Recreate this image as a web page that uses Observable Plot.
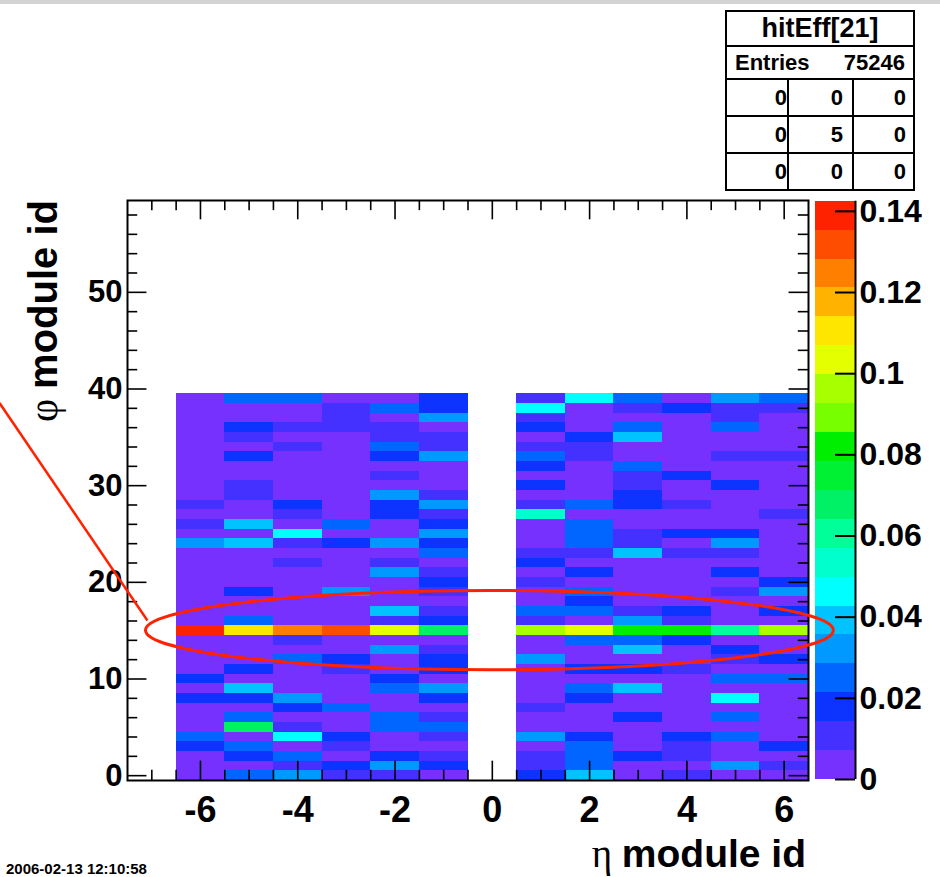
<!DOCTYPE html>
<html>
<head>
<meta charset="utf-8">
<script src="https://cdn.jsdelivr.net/npm/d3@7"></script>
<script src="https://cdn.jsdelivr.net/npm/@observablehq/plot@0.6"></script>
<style>
  html, body { margin: 0; padding: 0; background: #fff; }
  #wrap { position: relative; width: 940px; height: 877px; overflow: hidden; background: #fff;
          font-family: "Liberation Sans", Arial, Helvetica, sans-serif; }
  #wrap > svg, #wrap > div { position: absolute; }
  #topbar { left: 0; top: 0; width: 940px; height: 4px; background: #d3d3d3; }
  #stats { left: 725px; top: 10px; width: 186px; border: 2px solid #000; background: #fff; font-weight: bold; color: #000; }
  #stats .title { height: 33px; line-height: 33px; text-align: center; font-size: 27px; border-bottom: 2px solid #000; }
  #stats .entries { height: 31px; line-height: 31px; font-size: 22px; border-bottom: 2px solid #000; display: flex; justify-content: space-between; padding: 0 8px; }
  #stats .row { display: flex; height: 35px; line-height: 35px; font-size: 22px; }
  #stats .row + .row { border-top: 2px solid #000; }
  #stats .row span { text-align: right; box-sizing: border-box; }
  #stats .row span:nth-child(1) { width: 62px; border-right: 2px solid #000; padding-right: 0px; }
  #stats .row span:nth-child(2) { width: 65px; border-right: 2px solid #000; padding-right: 9px; }
  #stats .row span:nth-child(3) { width: 59px; padding-right: 7px; }
</style>
</head>
<body>
<div id="wrap"><div id="topbar"></div></div>
<script>
// ---------------- data ----------------
const histName = "hitEff[21]";
const entries = 75246;
const overflowTable = [[0, 0, 0], [0, 5, 0], [0, 0, 0]];

const etaIds = [-6, -5, -4, -3, -2, -1, 1, 2, 3, 4, 5, 6];
const phiIds = [0,1,2,3,4,5,6,7,8,9,10,11,12,13,14,15,16,17,18,19,20,21,22,23,24,25,26,27,28,29,30,31,32,33,34,35,36,37,38,39];

// hit efficiency per phi module (index = phi id 0..39), one array per eta module
const effEtaM6 = [.004,.004,.004,.018,.025,.004,.004,.004,.018,.004, .018,.004,.004,.004,.004,.139,.004,.004,.004,.004, .004,.004,.004,.004,.032,.004,.011,.004,.011,.004, .004,.004,.004,.004,.004,.004,.004,.004,.004,.004];
const effEtaM5 = [.025,.004,.018,.025,.004,.068,.025,.004,.018,.039, .004,.018,.004,.004,.004,.110,.025,.004,.004,.018, .004,.004,.004,.004,.039,.004,.039,.004,.004,.011, .011,.004,.004,.018,.004,.011,.018,.004,.004,.025];
const effEtaM4 = [.032,.011,.025,.004,.046,.011,.004,.018,.032,.004, .004,.004,.025,.004,.011,.125,.004,.004,.004,.004, .004,.004,.011,.004,.011,.046,.004,.011,.018,.004, .004,.004,.004,.004,.011,.004,.011,.004,.004,.025];
const effEtaM3 = [.011,.018,.004,.011,.018,.004,.004,.025,.004,.004, .004,.011,.018,.004,.004,.132,.004,.004,.004,.032, .004,.004,.004,.004,.018,.004,.025,.004,.004,.004, .004,.004,.004,.004,.004,.004,.011,.011,.011,.004];
const effEtaM2 = [.011,.032,.018,.004,.004,.025,.025,.004,.004,.025, .018,.004,.004,.032,.004,.103,.011,.039,.004,.004, .004,.032,.011,.004,.032,.004,.004,.018,.018,.032, .004,.011,.004,.018,.025,.011,.011,.004,.025,.004];
const effEtaM1 = [.004,.018,.011,.004,.011,.025,.011,.004,.018,.032, .004,.018,.018,.011,.004,.068,.018,.011,.004,.011, .018,.011,.004,.025,.018,.032,.018,.011,.032,.011, .004,.004,.004,.032,.011,.011,.004,.032,.018,.018];
const effEtaP1 = [.018,.011,.011,.004,.032,.004,.004,.011,.004,.004, .004,.004,.032,.004,.004,.096,.011,.025,.004,.004, .011,.004,.018,.011,.004,.004,.004,.053,.011,.004, .018,.004,.018,.025,.011,.004,.018,.011,.046,.011];
const effEtaP2 = [.039,.025,.025,.025,.018,.004,.004,.004,.018,.025, .004,.018,.004,.004,.025,.103,.004,.025,.018,.025, .004,.018,.004,.011,.025,.025,.025,.004,.025,.004, .004,.004,.004,.011,.011,.018,.004,.004,.004,.046];
const effEtaP3 = [.004,.004,.018,.004,.004,.004,.018,.004,.004,.039, .004,.018,.004,.039,.025,.082,.032,.011,.004,.004, .004,.004,.004,.039,.011,.011,.004,.004,.018,.018, .011,.011,.025,.004,.004,.039,.025,.004,.011,.025];
const effEtaP4 = [.011,.004,.011,.011,.018,.004,.004,.004,.004,.004, .004,.011,.004,.004,.018,.082,.011,.018,.004,.004, .004,.004,.004,.011,.004,.018,.004,.004,.011,.004, .004,.018,.004,.004,.004,.004,.004,.004,.018,.004];
const effEtaP5 = [.004,.032,.004,.004,.025,.004,.025,.004,.046,.004, .025,.004,.011,.018,.004,.061,.004,.004,.004,.011, .004,.018,.004,.011,.032,.018,.004,.004,.004,.004, .018,.004,.004,.011,.004,.004,.025,.011,.011,.032];
const effEtaP6 = [.004,.011,.004,.018,.004,.004,.004,.004,.004,.004, .025,.004,.018,.004,.004,.096,.004,.018,.004,.032, .018,.004,.004,.004,.004,.004,.004,.011,.004,.004, .004,.004,.004,.011,.004,.004,.004,.004,.011,.025];
const effColumns = [effEtaM6, effEtaM5, effEtaM4, effEtaM3, effEtaM2, effEtaM1, effEtaP1, effEtaP2, effEtaP3, effEtaP4, effEtaP5, effEtaP6];

// axes
const xMajorTicks = [-6, -4, -2, 0, 2, 4, 6];
const xTickLabels = ["-6", "-4", "-2", "0", "2", "4", "6"];
const xMinorTicks = [-7, -6.5, -5.5, -5, -4.5, -3.5, -3, -2.5, -1.5, -1, -0.5, 0.5, 1, 1.5, 2.5, 3, 3.5, 4.5, 5, 5.5];
const yMajorTicks = [0, 10, 20, 30, 40, 50];
const yTickLabels = ["0", "10", "20", "30", "40", "50"];
const yMinorTicks = [2, 4, 6, 8, 12, 14, 16, 18, 22, 24, 26, 28, 32, 34, 36, 38, 42, 44, 46, 48, 52, 54, 56, 58];
const xTitle = ["η", "module id"];
const yTitle = ["φ", "module id"];
const dateStamp = "2006-02-13 12:10:58";

// colour palette (20 contour levels) and colour bar
const zMax = 0.1425;
const palette = ["#7631ff", "#4531ff", "#0c33ff", "#0066ff", "#0099ff", "#00c3ff", "#00ffff", "#00ffcc",
                 "#00ff99", "#00f066", "#00f033", "#00ee00", "#77ff00", "#a8ff00", "#e3ff00", "#ffe600",
                 "#ffb300", "#ff8000", "#ff4d00", "#ff2200"];
const zTicks = [0, 0.02, 0.04, 0.06, 0.08, 0.1, 0.12, 0.14];
const zTickLabels = ["0", "0.02", "0.04", "0.06", "0.08", "0.1", "0.12", "0.14"];

// hand annotation (data units: eta, phi)
const ringCenter = {eta: -0.05, phi: 15};
const ringRadius = {eta: 7.07, phi: 4.1};
const pointerFrom = {eta: -10.12, phi: 38.5};
const pointerTo = {eta: -7.08, phi: 16.0};

// ---------------- build ----------------
const wrap = document.getElementById("wrap");
const font = "Liberation Sans, Arial, Helvetica, sans-serif";
const cells = etaIds.flatMap((eta, j) => phiIds.map((phi, i) => ({eta, phi, value: effColumns[j][i]})));
const bandW = zMax / palette.length;
const thresholds = palette.slice(1).map((_, i) => (i + 1) * bandW);
const colorOpts = {type: "threshold", domain: thresholds, range: palette};
const tk = {stroke: "#000", strokeWidth: 1.6};

const main = Plot.plot({
  width: 940, height: 877,
  marginTop: 200, marginRight: 132, marginBottom: 97, marginLeft: 127,
  x: {domain: [-7.5, 6.5], axis: null},
  y: {domain: [-0.5, 59.5], axis: null},
  color: colorOpts,
  style: {background: "transparent", overflow: "visible"},
  marks: [
    Plot.rect(cells, {x1: d => d.eta - 0.5, x2: d => d.eta + 0.5, y1: d => d.phi - 0.5, y2: d => d.phi + 0.5,
                      fill: "value", shapeRendering: "crispEdges"}),
    Plot.ruleX(xMinorTicks, {y1: -0.5, y2: 0.55, ...tk}),
    Plot.ruleX(xMajorTicks, {y1: -0.5, y2: 1.5, ...tk}),
    Plot.ruleX(xMinorTicks, {y1: 59.5, y2: 58.45, ...tk}),
    Plot.ruleX(xMajorTicks, {y1: 59.5, y2: 57.5, ...tk}),
    Plot.ruleY(yMinorTicks, {x1: -7.5, x2: -7.29, ...tk}),
    Plot.ruleY(yMajorTicks, {x1: -7.5, x2: -7.1, ...tk}),
    Plot.ruleY(yMinorTicks, {x1: 6.5, x2: 6.29, ...tk}),
    Plot.ruleY(yMajorTicks, {x1: 6.5, x2: 6.1, ...tk}),
    Plot.frame({stroke: "#000", strokeWidth: 2}),
    Plot.text(xMajorTicks, {x: d => d, y: -0.5, dy: 30, text: (d, i) => xTickLabels[i],
                            fontSize: 36, fontWeight: "bold", fontFamily: font, fill: "#000"}),
    Plot.text(yMajorTicks, {x: -7.5, y: d => d, dx: -5, textAnchor: "end", text: (d, i) => yTickLabels[i],
                            fontSize: 31, fontWeight: "bold", fontFamily: font, fill: "#000"})
  ]
});
main.style.left = "0px"; main.style.top = "0px";
wrap.appendChild(main);

const bar = Plot.plot({
  width: 125, height: 600,
  marginTop: 10.7, marginBottom: 11, marginLeft: 0, marginRight: 85,
  x: {domain: [0, 1], axis: null},
  y: {domain: [0, zMax], axis: null},
  color: colorOpts,
  style: {background: "transparent", overflow: "visible"},
  marks: [
    Plot.rect(palette, {x1: 0, x2: 1, y1: (d, i) => i * bandW, y2: (d, i) => (i + 1) * bandW,
                        fill: (d, i) => (i + 0.5) * bandW, shapeRendering: "crispEdges"}),
    Plot.ruleX([1], {y1: 0, y2: zMax, stroke: "#000", strokeWidth: 2}),
    Plot.ruleY(zTicks, {x1: 0.5, x2: 1, stroke: "#000", strokeWidth: 2}),
    Plot.text(zTicks, {x: 1, y: d => d, dx: 4, textAnchor: "start", text: (d, i) => zTickLabels[i],
                       fontSize: 32, fontWeight: "bold", fontFamily: font, fill: "#000"})
  ]
});
bar.style.left = "815px"; bar.style.top = "190px";
wrap.appendChild(bar);

// stats box
const stats = document.createElement("div");
stats.id = "stats";
stats.innerHTML = `<div class="title">${histName}</div>` +
  `<div class="entries"><span>Entries</span><span>${entries}</span></div>` +
  overflowTable.map(r => `<div class="row">${r.map(v => `<span>${v}</span>`).join("")}</div>`).join("");
wrap.appendChild(stats);

// overlay: titles, date, annotation
const sx = main.scale("x"), sy = main.scale("y");
const ov = d3.select(wrap).append("svg").attr("width", 940).attr("height", 877)
  .style("left", "0px").style("top", "0px").style("pointer-events", "none");

const xt = ov.append("text").attr("x", 806).attr("y", 867).attr("text-anchor", "end").attr("font-size", 39);
xt.append("tspan").attr("font-family", "Liberation Serif, DejaVu Serif, serif").text(xTitle[0] + " ");
xt.append("tspan").attr("font-family", font).attr("font-weight", "bold").text(xTitle[1]);

const yt = ov.append("text").attr("transform", "translate(57,200) rotate(-90)").attr("text-anchor", "end").attr("font-size", 40);
yt.append("tspan").attr("font-family", "Liberation Serif, DejaVu Serif, serif").text(yTitle[0] + " ");
yt.append("tspan").attr("font-family", font).attr("font-weight", "bold").text(yTitle[1]);

ov.append("text").attr("x", 6).attr("y", 874).attr("font-family", font).attr("font-weight", "bold")
  .attr("font-size", 15).text(dateStamp);

const cx = sx.apply(ringCenter.eta), cy = sy.apply(ringCenter.phi);
ov.append("ellipse").attr("cx", cx).attr("cy", cy)
  .attr("rx", sx.apply(ringCenter.eta + ringRadius.eta) - cx)
  .attr("ry", cy - sy.apply(ringCenter.phi + ringRadius.phi))
  .attr("fill", "none").attr("stroke", "#ff2200").attr("stroke-width", 3);
ov.append("line")
  .attr("x1", sx.apply(pointerFrom.eta)).attr("y1", sy.apply(pointerFrom.phi))
  .attr("x2", sx.apply(pointerTo.eta)).attr("y2", sy.apply(pointerTo.phi))
  .attr("stroke", "#ff2200").attr("stroke-width", 2.5);
</script>
</body>
</html>
